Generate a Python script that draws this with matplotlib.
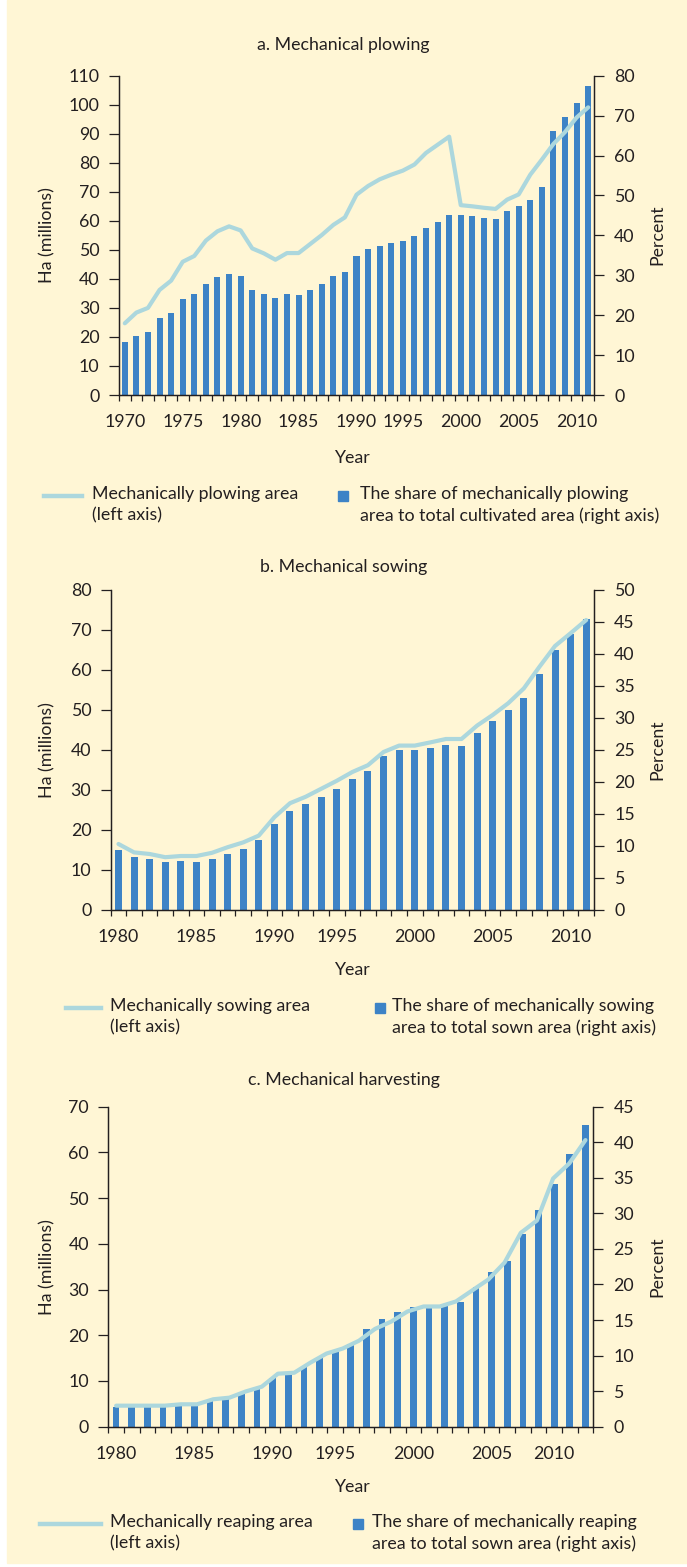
import numpy as np
import matplotlib
matplotlib.use("Agg")
import matplotlib.pyplot as plt
from matplotlib.patches import Rectangle
from matplotlib.lines import Line2D

plt.rcParams["font.family"] = ["Lato", "DejaVu Sans"]

# ---- data ----
# a. Mechanical plowing (one year between 1991 and 1994 is not in the source series)
years_a = [y for y in range(1970, 2012) if y != 1992]
plow_share = [13.3, 14.8, 15.8, 19.3, 20.5, 24.1, 25.3, 27.8, 29.6, 30.3,
              29.8, 26.3, 25.3, 24.3, 25.3, 25.1, 26.3, 27.8, 29.8, 30.8,
              34.8, 36.6, 37.3, 38.1, 38.6, 39.8, 41.8, 43.3, 45.1, 45.1,
              44.8, 44.3, 44.1, 46.1, 47.3, 48.9, 52.1, 66.1, 69.6, 73.2, 77.4]
plow_area = [24.7, 28.4, 30.0, 36.2, 39.4, 45.9, 47.9, 53.2, 56.4, 58.1,
             56.7, 50.5, 48.8, 46.6, 48.9, 48.9, 52.0, 55.1, 58.6, 61.2,
             69.0, 72.0, 74.3, 75.9, 77.3, 79.4, 83.4, 86.2, 89.0, 65.4,
             65.0, 64.5, 64.1, 67.3, 69.1, 75.9, 81.1, 86.5, 90.6, 95.6, 99.1]

# b. Mechanical sowing
years_b = [y for y in range(1980, 2012) if y != 1992]
sow_share = [9.4, 8.3, 8.0, 7.5, 7.7, 7.5, 8.0, 8.75, 9.5, 10.9,
             13.4, 15.5, 16.6, 17.7, 18.9, 20.5, 21.7, 24.1, 25.0, 25.0,
             25.3, 25.8, 25.6, 27.7, 29.5, 31.25, 33.1, 36.9, 40.6, 43.1, 45.5]
sow_area = [16.5, 14.4, 14.0, 13.2, 13.5, 13.5, 14.3, 15.7, 16.9, 18.6,
            23.2, 26.7, 28.3, 30.3, 32.3, 34.5, 36.2, 39.5, 41.1, 41.1,
            41.9, 42.75, 42.75, 46.1, 48.75, 51.7, 55.4, 60.8, 66.0, 69.2, 72.5]

# c. Mechanical harvesting
years_c = [y for y in range(1980, 2013) if y not in (1992, 2007)]
reap_share = [2.8, 2.8, 2.8, 2.8, 3.0, 3.0, 3.6, 3.85, 4.7, 5.25,
              6.9, 7.5, 8.5, 9.75, 10.6, 11.7, 13.7, 15.1, 16.2, 16.9,
              16.9, 17.3, 17.5, 19.6, 21.8, 23.25, 27.1, 30.5, 34.2, 38.35, 42.4]
reap_area = [4.6, 4.6, 4.6, 4.6, 4.9, 4.9, 6.0, 6.35, 7.7, 8.75,
             11.6, 11.8, 14.0, 16.0, 17.1, 18.8, 21.4, 23.0, 25.2, 26.3,
             26.3, 27.4, 29.8, 32.2, 35.9, 42.4, 45.1, 54.3, 57.6, 62.7]

BG = "#fff6d5"
BAR = "#3d83c6"
LINE = "#acd7dd"
INK = "#231f20"
FS = 12.8

W, H = 687, 1567
fig = plt.figure(figsize=(W / 100, H / 100), dpi=100, facecolor="white")

# overlay in pixel coordinates for background, titles, labels and legends
ov = fig.add_axes([0, 0, 1, 1], zorder=-5)
ov.set_xlim(0, W)
ov.set_ylim(H, 0)
ov.axis("off")
ov.add_patch(Rectangle((7, 0), W - 7, H - 4, color=BG, zorder=0))


def rect(l, t, r, b):
    return [l / W, 1 - b / H, (r - l) / W, (b - t) / H]


def panel(box, years, share, area, lmax, lstep, rmax, rstep, bar_w):
    ax = fig.add_axes(rect(*box))
    ax2 = ax.twinx()
    n = len(years)
    x = np.arange(n)
    ax2.bar(x, share, width=bar_w, color=BAR, zorder=2)
    xl = np.linspace(0, n - 1, len(area))
    ax.plot(xl, area, color=LINE, lw=3.0, solid_joinstyle="round",
            solid_capstyle="round", zorder=3)
    ax.set_zorder(ax2.get_zorder() + 1)
    ax.patch.set_visible(False)
    ax2.patch.set_visible(False)

    ax.set_xlim(-0.5, n - 0.5)
    ax.set_ylim(0, lmax)
    ax2.set_ylim(0, rmax)
    ax.set_yticks(np.arange(0, lmax + 1, lstep))
    ax2.set_yticks(np.arange(0, rmax + 1, rstep))

    lab_idx = [i for i, y in enumerate(years) if y % 5 == 0]
    ax.set_xticks(lab_idx)
    ax.set_xticklabels([str(years[i]) for i in lab_idx])
    ax.set_xticks(np.arange(-0.5, n, 1), minor=True)
    ax.tick_params(axis="x", which="major", length=0, pad=14, labelsize=FS,
                   colors=INK)
    ax.tick_params(axis="x", which="minor", length=4.5, width=0.9,
                   direction="out", color=INK)
    ax.tick_params(axis="y", length=7, width=0.9, pad=7, labelsize=FS,
                   colors=INK)
    ax2.tick_params(axis="y", length=7.5, width=0.9, pad=7, labelsize=FS,
                    colors=INK)
    for a in (ax, ax2):
        a.spines["top"].set_visible(False)
        for s in ("left", "right", "bottom"):
            a.spines[s].set_color(INK)
            a.spines[s].set_linewidth(0.9)
    return ax, ax2


def texts(title_y, title, mid_y, year_y, leg_y, line_x, t1_x, sq_x, t2_x,
          lab1, lab2):
    ov.text(W / 2, title_y, title, ha="center", va="center", fontsize=FS,
            color=INK)
    ov.text(47, mid_y, "Ha (millions)", rotation=90, ha="center",
            va="center", fontsize=FS, color=INK)
    ov.text(657, mid_y, "Percent", rotation=90, ha="center", va="center",
            fontsize=FS, color=INK)
    ov.text(352, year_y, "Year", ha="center", va="center", fontsize=FS,
            color=INK)
    ov.add_line(Line2D(line_x, [leg_y, leg_y], color=LINE, lw=3.2))
    ov.add_patch(Rectangle((sq_x, leg_y - 5), 10, 10, color=BAR))
    ov.text(t1_x, leg_y - 10, lab1, ha="left", va="top", fontsize=FS,
            color=INK, linespacing=1.38)
    ov.text(t2_x, leg_y - 10, lab2, ha="left", va="top", fontsize=FS,
            color=INK, linespacing=1.38)


panel((119, 75.7, 594, 395), years_a, plow_share, plow_area, 110, 10, 80, 10, 0.52)
texts(45, "a. Mechanical plowing", 235, 458, 496, [44, 82], 92, 338, 360,
      "Mechanically plowing area\n(left axis)",
      "The share of mechanically plowing\narea to total cultivated area (right axis)")

panel((110.7, 590, 594, 910), years_b, sow_share, sow_area, 80, 10, 50, 5, 0.45)
texts(567, "b. Mechanical sowing", 750, 970, 1008, [66, 101], 110, 375, 392,
      "Mechanically sowing area\n(left axis)",
      "The share of mechanically sowing\narea to total sown area (right axis)")

panel((108.3, 1106.7, 593.3, 1426.7), years_c, reap_share, reap_area, 70, 10, 45, 5, 0.43)
texts(1080, "c. Mechanical harvesting", 1267, 1487, 1524, [40, 101], 110, 353, 372,
      "Mechanically reaping area\n(left axis)",
      "The share of mechanically reaping\narea to total sown area (right axis)")

fig.savefig("out.png", dpi=100, facecolor="white")
